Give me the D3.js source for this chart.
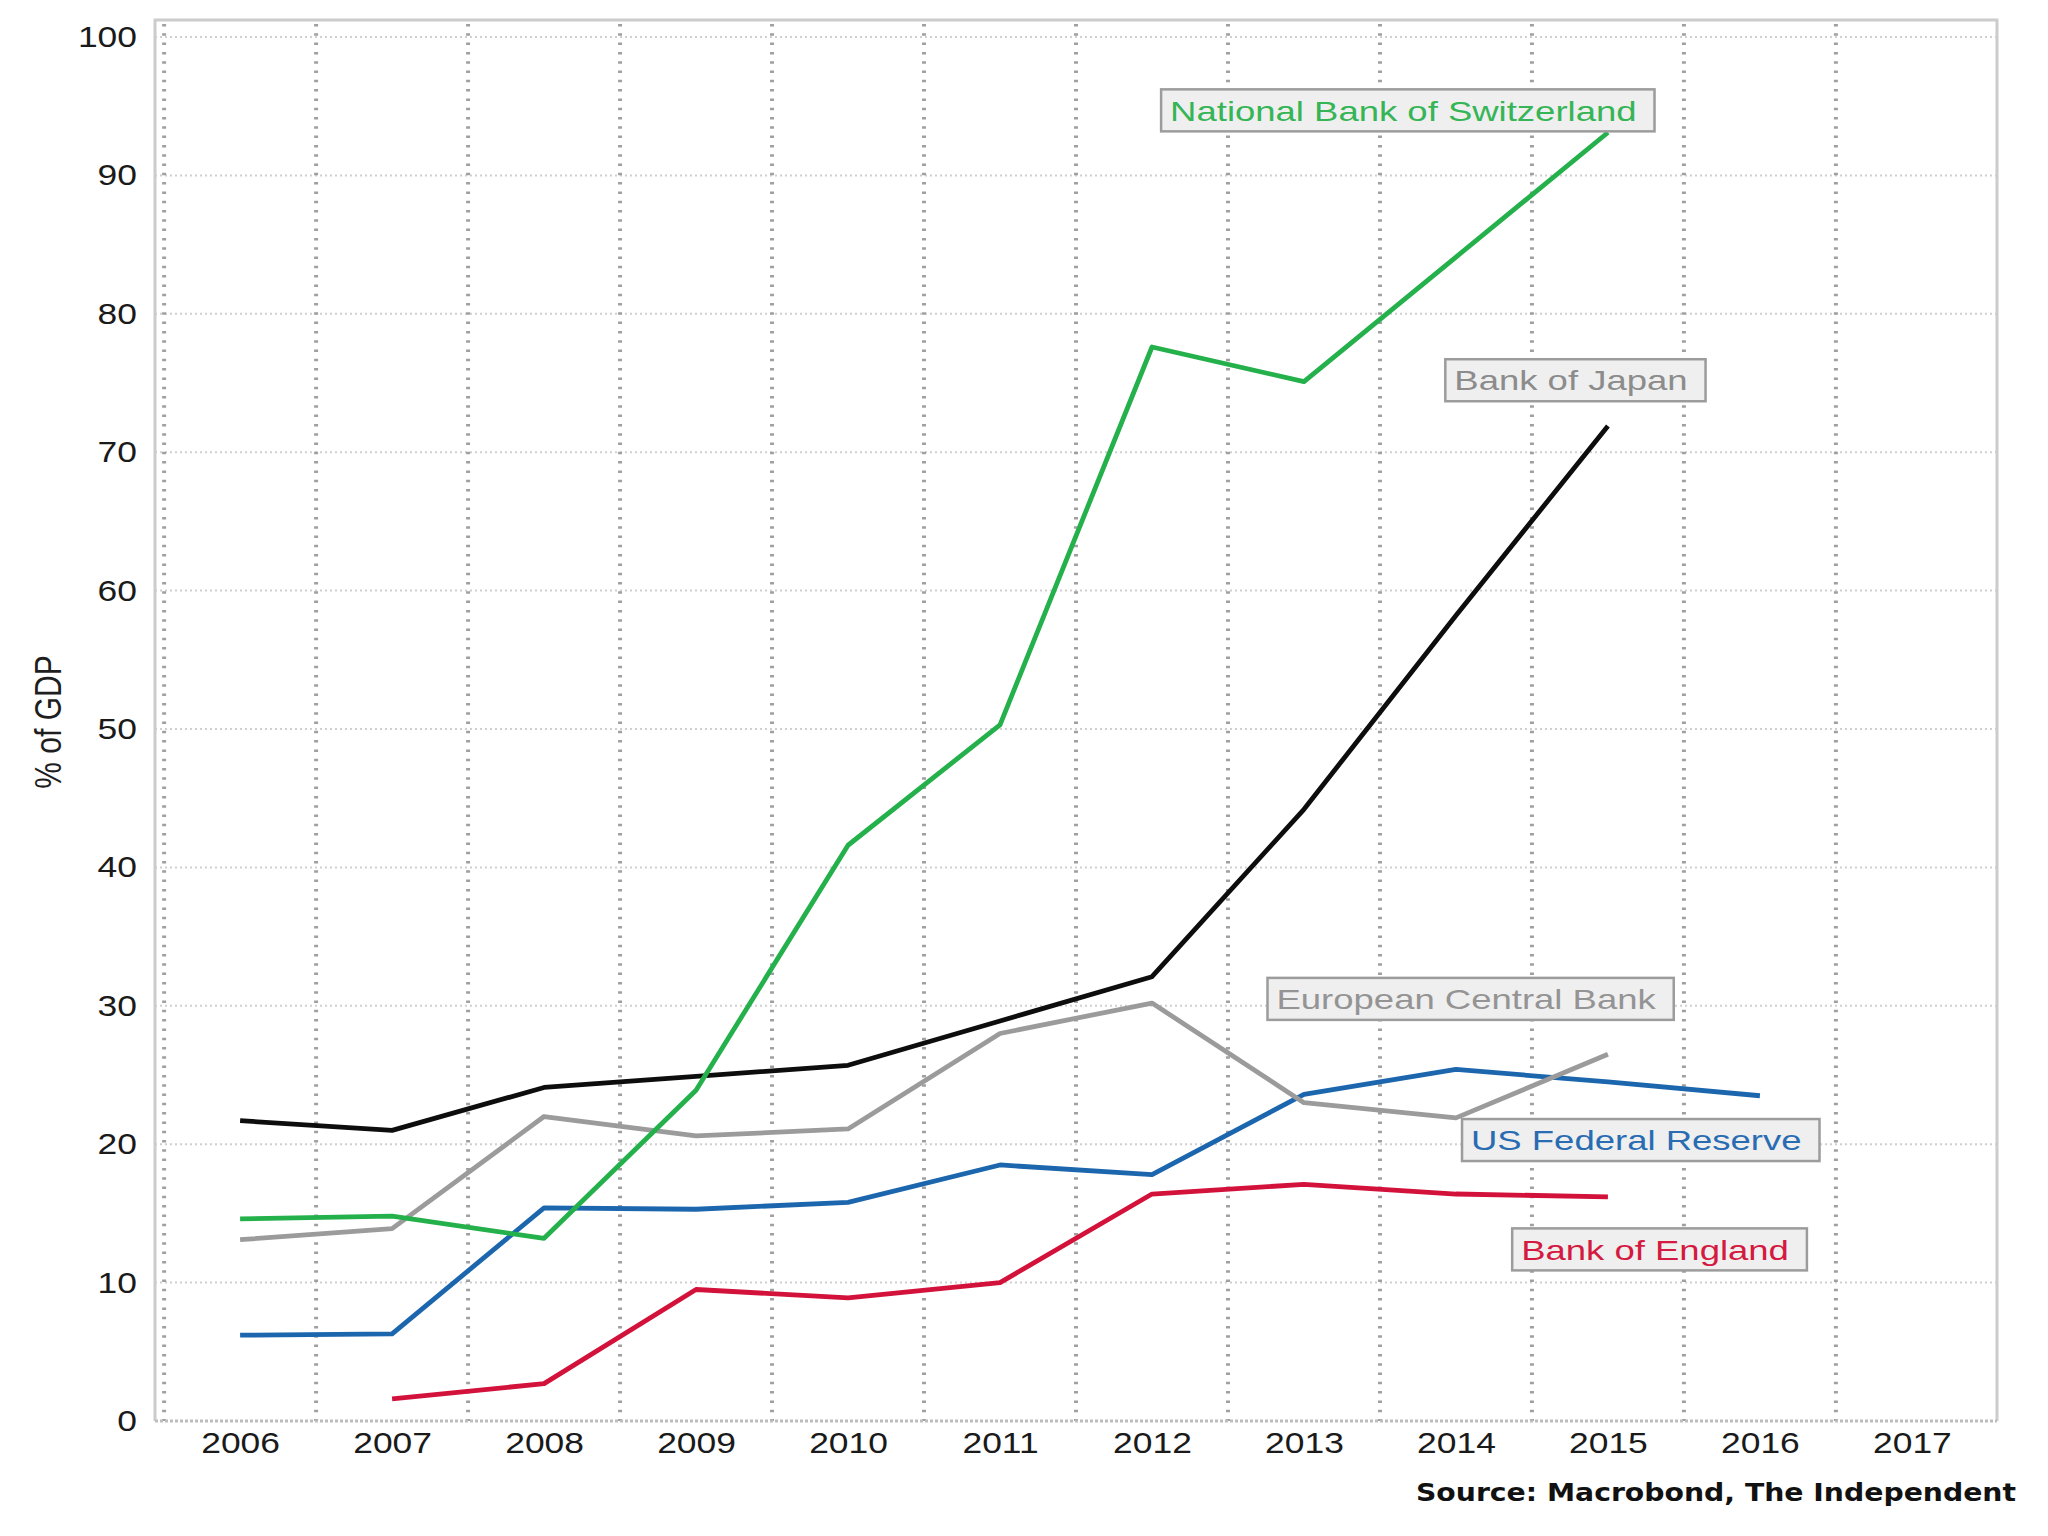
<!DOCTYPE html>
<html lang="en">

<head>
  <meta charset="utf-8">
  <script src="https://d3js.org/d3.v7.min.js"></script>
  <style>
    body {
      margin: 0;
      background: #fff;
    }

    svg {
      font-family: "Liberation Sans", Arial, sans-serif;
    }
  </style>
</head>

<body>
  <svg width="2048" height="1536"></svg>
  <script>
    // years on the x axis
    const years = [2006, 2007, 2008, 2009, 2010, 2011, 2012, 2013, 2014, 2015, 2016, 2017];
    const yTicks = [0, 10, 20, 30, 40, 50, 60, 70, 80, 90, 100];

    // balance sheets, % of GDP
    const swissYears = [2006, 2007, 2008, 2009, 2010, 2011, 2012, 2013, 2014, 2015];
    const swiss = [14.6, 14.8, 13.2, 23.9, 41.6, 50.3, 77.6, 75.1, 84.1, 93.1];

    const japanYears = [2006, 2007, 2008, 2009, 2010, 2011, 2012, 2013, 2014, 2015];
    const japan = [21.7, 21.0, 24.1, 24.9, 25.7, 28.9, 32.1, 44.2, 58.2, 71.9];

    const ecbYears = [2006, 2007, 2008, 2009, 2010, 2011, 2012, 2013, 2014, 2015];
    const ecb = [13.1, 13.9, 22.0, 20.6, 21.1, 28.0, 30.2, 23.0, 21.9, 26.5];

    const fedYears = [2006, 2007, 2008, 2009, 2010, 2011, 2012, 2013, 2014, 2015, 2016];
    const fed = [6.2, 6.3, 15.4, 15.3, 15.8, 18.5, 17.8, 23.6, 25.4, 24.5, 23.5];

    const boeYears = [2007, 2008, 2009, 2010, 2011, 2012, 2013, 2014, 2015];
    const boe = [1.6, 2.7, 9.5, 8.9, 10.0, 16.4, 17.1, 16.4, 16.2];

    const seriesNames = ["National Bank of Switzerland", "Bank of Japan", "European Central Bank",
      "US Federal Reserve", "Bank of England"];

    const yTitle = "% of GDP";
    const source = "Source: Macrobond, The Independent";

    const series = [
      { name: seriesNames[0], years: swissYears, values: swiss, color: "#24b04b", text: "#35b555" },
      { name: seriesNames[1], years: japanYears, values: japan, color: "#0d0d0d", text: "#8c8c8c" },
      { name: seriesNames[2], years: ecbYears, values: ecb, color: "#9b9b9b", text: "#949494" },
      { name: seriesNames[3], years: fedYears, values: fed, color: "#1c66ae", text: "#2a6cb2" },
      { name: seriesNames[4], years: boeYears, values: boe, color: "#d3123b", text: "#d41a40" }
    ];

    // where each label box sits, in data units (left edge year, centre value)
    const labelSpots = [[2012.06, 94.7], [2013.93, 75.2], [2012.76, 30.5], [2014.04, 20.3], [2014.37, 12.4]];

    const svg = d3.select("svg");
    const plotL = 155, plotR = 1997, plotT = 20, plotB = 1421;
    const stretchX = 1.28;

    const x = d3.scaleLinear().domain([2005.44, 2017.56]).range([plotL, plotR]);
    const y = d3.scaleLinear().domain([0, 100]).range([plotB, 37]);

    // text in the original is drawn wide, so widen it the same way
    function widen(sel, k) {
      sel.each(function () {
        const w = this.getComputedTextLength();
        d3.select(this).attr("textLength", w * k).attr("lengthAdjust", "spacingAndGlyphs");
      });
    }

    // horizontal grid
    svg.append("g")
      .selectAll("line")
      .data(yTicks.filter(d => d > 0))
      .join("line")
      .attr("x1", plotL)
      .attr("x2", plotR)
      .attr("y1", d => y(d))
      .attr("y2", d => y(d))
      .attr("stroke", "#cfcfcf")
      .attr("stroke-width", 2)
      .attr("stroke-dasharray", "2,3");

    // vertical grid, between the years
    svg.append("g")
      .selectAll("line")
      .data(years.map(d => d - 0.5))
      .join("line")
      .attr("x1", d => x(d))
      .attr("x2", d => x(d))
      .attr("y1", plotT + 4)
      .attr("y2", plotB)
      .attr("stroke", "#a0a0a0")
      .attr("stroke-width", 4)
      .attr("stroke-dasharray", "2.5,6.8");

    // frame
    svg.append("path")
      .attr("d", `M${plotL},${plotB}V${plotT}H${plotR}V${plotB}`)
      .attr("fill", "none")
      .attr("stroke", "#cccccc")
      .attr("stroke-width", 3);
    svg.append("line")
      .attr("x1", plotL)
      .attr("x2", plotR)
      .attr("y1", plotB)
      .attr("y2", plotB)
      .attr("stroke", "#bdbdbd")
      .attr("stroke-width", 3)
      .attr("stroke-dasharray", "3,2");

    // axes
    const xAxis = svg.append("g")
      .attr("transform", `translate(0,${plotB})`)
      .call(d3.axisBottom(x).tickValues(years).tickFormat(d3.format("d")).tickSize(0).tickPadding(11));
    const yAxis = svg.append("g")
      .attr("transform", `translate(${plotL},0)`)
      .call(d3.axisLeft(y).tickValues(yTicks).tickSize(0).tickPadding(18));

    [xAxis, yAxis].forEach(g => {
      g.select(".domain").remove();
      g.selectAll("text")
        .attr("font-size", 29.5)
        .attr("font-family", "Liberation Sans, Arial, sans-serif")
        .attr("fill", "#1a1a1a");
    });
    widen(xAxis.selectAll("text"), 1.2);
    widen(yAxis.selectAll("text"), 1.2);

    svg.append("text")
      .attr("transform", `translate(48,722) rotate(-90) scale(1,1.25)`)
      .attr("text-anchor", "middle")
      .attr("dominant-baseline", "central")
      .attr("font-size", 30)
      .attr("fill", "#1e1e1e")
      .text(yTitle);

    // lines
    const line = d3.line()
      .x(d => x(d[0]))
      .y(d => y(d[1]));

    svg.append("g")
      .selectAll("path")
      .data(series.slice().reverse())
      .join("path")
      .attr("d", s => line(s.years.map((yr, i) => [yr, s.values[i]])))
      .attr("fill", "none")
      .attr("stroke", s => s.color)
      .attr("stroke-width", 4.8)
      .attr("stroke-linejoin", "round");

    // label boxes
    const boxes = svg.append("g")
      .selectAll("g")
      .data(series)
      .join("g")
      .attr("transform", (s, i) => `translate(${x(labelSpots[i][0])},${y(labelSpots[i][1])})`);

    const rects = boxes.append("rect")
      .attr("y", -21)
      .attr("height", 42)
      .attr("fill", "#efefef")
      .attr("stroke", "#9c9c9c")
      .attr("stroke-width", 2.5);

    const labels = boxes.append("text")
      .attr("x", 9)
      .attr("dy", "0.36em")
      .attr("font-size", 28.5)
      .attr("fill", s => s.text)
      .text(s => s.name);
    widen(labels, stretchX);
    rects.attr("width", function () {
      const t = this.parentNode.querySelector("text");
      return +t.getAttribute("textLength") + 27;
    });

    // source
    svg.append("text")
      .attr("x", 2016)
      .attr("y", 1501)
      .attr("text-anchor", "end")
      .attr("font-family", "DejaVu Sans, sans-serif")
      .attr("font-weight", "bold")
      .attr("font-size", 24)
      .attr("textLength", 600)
      .attr("lengthAdjust", "spacingAndGlyphs")
      .attr("fill", "#111")
      .text(source);
  </script>
</body>

</html>
